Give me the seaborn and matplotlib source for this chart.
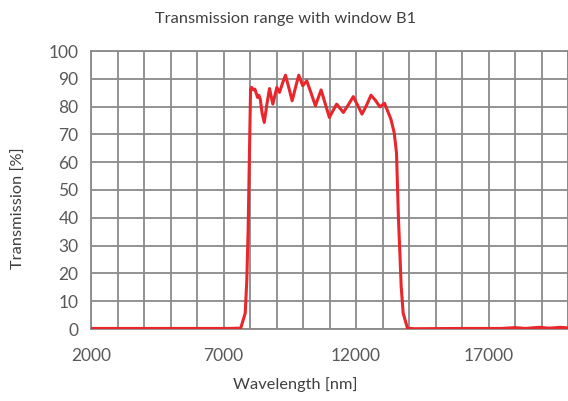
import numpy as np
import pandas as pd
import seaborn as sns
import matplotlib.pyplot as plt

# transmission curve
wavelength = [2000, 4000, 6000, 7200, 7650, 7820, 7880, 7930, 7984, 8022,
              8060, 8135, 8184, 8285, 8334, 8387, 8460, 8538, 8640, 8737,
              8861, 9012, 9113, 9230, 9339, 9460, 9591, 9720, 9840, 9990,
              10141, 10300, 10468, 10683, 10840, 10995, 11130, 11270, 11522,
              11700, 11898, 12060, 12226, 12400, 12565, 12730, 12903, 13076,
              13317, 13441, 13528, 13566, 13603, 13656, 13705, 13780, 13942,
              14200, 16000, 17500, 18000, 18400, 18900, 19300, 19700, 20000]
transmission = [0.2, 0.2, 0.2, 0.2, 0.3, 5.7, 17.7, 35.7, 65.8, 86.3,
                86.9, 86.0, 86.3, 83.3, 84.1, 82.7, 77.5, 74.3, 81.0, 86.5,
                80.9, 86.9, 85.1, 88.5, 91.3, 87.0, 82.1, 87.0, 91.3, 87.5,
                89.3, 85.0, 80.3, 86.0, 81.0, 76.1, 78.5, 80.9, 77.9,
                80.5, 83.6, 80.5, 77.3, 80.5, 84.1, 82.3, 79.9, 81.2,
                75.5, 70.6, 63.4, 51.4, 39.4, 27.3, 15.3, 5.7, 0.3,
                0.1, 0.2, 0.2, 0.5, 0.2, 0.6, 0.3, 0.6, 0.4]

x_ticks = [2000, 7000, 12000, 17000]
y_ticks = list(range(0, 101, 10))

df = pd.DataFrame({"Wavelength": wavelength, "Transmission": transmission})

sns.set_style("white")
plt.rcParams["font.family"] = ["Lato", "DejaVu Sans"]
grid_col = "#8a8a8a"
text_col = "#595959"

fig = plt.figure(figsize=(5.68, 4.01), dpi=100)
ax = fig.add_axes([91/568, 1 - 329/401, 477/568, 278/401])

# grid every 1000 nm / 10 %
for gx in range(2000, 20001, 1000):
    ax.axvline(gx, color=grid_col, lw=1.3, zorder=1)
for gy in y_ticks:
    ax.axhline(gy, color=grid_col, lw=1.3, zorder=1)

sns.lineplot(data=df, x="Wavelength", y="Transmission", ax=ax,
             color="#e8262b", lw=2.2, zorder=3)

ax.set_xlim(2000, 20000)
ax.set_ylim(0, 100)
ax.set_xticks(x_ticks)
ax.set_yticks(y_ticks)
ax.tick_params(axis="both", colors=grid_col, labelcolor=text_col,
               labelsize=12.5, length=5, width=1, direction="out")
ax.tick_params(axis="x", pad=9)
ax.tick_params(axis="y", pad=4)
for s in ax.spines.values():
    s.set_color(grid_col)
    s.set_linewidth(1.3)
ax.set_xlabel("")
ax.set_ylabel("")

fig.text(0.502, 0.953, "Transmission range with window B1", ha="center",
         va="center", fontsize=11.8, color="#404040")
fig.text(0.52, 0.04, "Wavelength [nm]", ha="center", va="center",
         fontsize=11.8, color="#404040")
fig.text(0.034, 0.482, "Transmission [%]", ha="center", va="center",
         rotation=90, fontsize=11.8, color="#404040")

fig.savefig("out.png", dpi=100)
